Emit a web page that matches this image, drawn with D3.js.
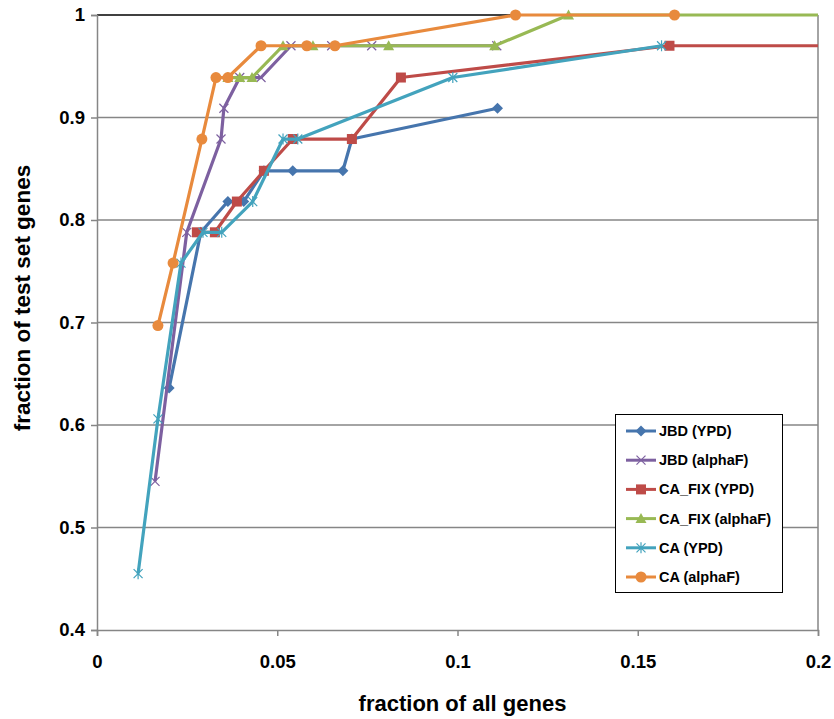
<!DOCTYPE html>
<meta charset="utf-8">
<style>
    body {
        margin: 0;
        background-color: #fff;
    }

    svg {
        display: block;
        font-family: "Liberation Sans", Arial, sans-serif;
        font-weight: bold;
    }
</style>
<script src="https://cdn.jsdelivr.net/npm/d3@7"></script>
<svg width="834" height="719"></svg>
<script>
    // valores
    var nomes = ["JBD (YPD)", "JBD (alphaF)", "CA_FIX (YPD)", "CA_FIX (alphaF)", "CA (YPD)", "CA (alphaF)"];

    var jbdYpdX = [0.0200, 0.0288, 0.0363, 0.0407, 0.0463, 0.0543, 0.0682, 0.0707, 0.1111];
    var jbdYpdY = [0.636, 0.788, 0.818, 0.818, 0.848, 0.848, 0.848, 0.879, 0.909];

    var jbdAlphaX = [0.0161, 0.0249, 0.0344, 0.0352, 0.0396, 0.0455, 0.0538, 0.0651, 0.0762, 0.1109];
    var jbdAlphaY = [0.545, 0.788, 0.879, 0.909, 0.939, 0.939, 0.970, 0.970, 0.970, 0.970];

    var caFixYpdX = [0.0277, 0.0327, 0.0388, 0.0463, 0.0543, 0.0707, 0.0843, 0.1588, 0.25];
    var caFixYpdY = [0.788, 0.788, 0.818, 0.848, 0.879, 0.879, 0.939, 0.970, 0.970];

    var caFixAlphaX = [0.0363, 0.0396, 0.0430, 0.0516, 0.0599, 0.0809, 0.1103, 0.1308, 0.25];
    var caFixAlphaY = [0.939, 0.939, 0.939, 0.970, 0.970, 0.970, 0.970, 1.0, 1.0];

    var caYpdX = [0.0114, 0.0169, 0.0233, 0.0294, 0.0346, 0.0432, 0.0516, 0.0557, 0.0987, 0.1566];
    var caYpdY = [0.455, 0.606, 0.758, 0.788, 0.788, 0.818, 0.879, 0.879, 0.939, 0.970];

    var caAlphaX = [0.0169, 0.0211, 0.0291, 0.0330, 0.0363, 0.0455, 0.0582, 0.0660, 0.1161, 0.1602];
    var caAlphaY = [0.697, 0.758, 0.879, 0.939, 0.939, 0.970, 0.970, 0.970, 1.0, 1.0];

    var xTicks = [0, 0.05, 0.1, 0.15, 0.2];
    var yTicks = [0.4, 0.5, 0.6, 0.7, 0.8, 0.9, 1];

    var cores = ["#4675AD", "#7D60A0", "#BE4B48", "#98B954", "#43A3BD", "#E88A3D"];
    var marcadores = ["diamond", "x", "square", "triangle", "star", "circle"];

    function junta(xs, ys) {
        return xs.map(function (x, i) { return [x, ys[i]]; });
    }

    var series = [
        junta(jbdYpdX, jbdYpdY),
        junta(jbdAlphaX, jbdAlphaY),
        junta(caFixYpdX, caFixYpdY),
        junta(caFixAlphaX, caFixAlphaY),
        junta(caYpdX, caYpdY),
        junta(caAlphaX, caAlphaY)
    ];

    var svg = d3.select("svg");
    var esq = 97, dir = 818, topo = 15, base = 630;

    var x = d3.scaleLinear().domain([0, 0.2]).range([esq, dir]);
    var y = d3.scaleLinear().domain([0.4, 1]).range([base, topo]);

    // grade
    svg.append("g")
        .selectAll("line")
        .data(yTicks.filter(function (d) { return d > 0.4 && d < 1; }))
        .enter().append("line")
        .attr("x1", esq).attr("x2", dir)
        .attr("y1", function (d) { return y(d); })
        .attr("y2", function (d) { return y(d); })
        .attr("stroke", "#868686")
        .attr("stroke-width", 1.5);

    svg.append("line")
        .attr("x1", esq).attr("x2", dir).attr("y1", y(1)).attr("y2", y(1))
        .attr("stroke", "#000").attr("stroke-width", 1.5);
    svg.append("line")
        .attr("x1", dir).attr("x2", dir).attr("y1", topo).attr("y2", base)
        .attr("stroke", "#868686").attr("stroke-width", 1.5);

    // eixos
    var eixoX = svg.append("g")
        .attr("transform", "translate(0," + base + ")")
        .call(d3.axisBottom(x).tickValues(xTicks).tickSize(6).tickPadding(19)
            .tickFormat(function (d) { return d === 0 ? "0" : String(d); }));
    var eixoY = svg.append("g")
        .attr("transform", "translate(" + esq + ",0)")
        .call(d3.axisLeft(y).tickValues(yTicks).tickSize(6).tickPadding(6)
            .tickFormat(function (d) { return d === 1 ? "1" : d.toFixed(1); }));

    [eixoX, eixoY].forEach(function (g) {
        g.select(".domain").attr("stroke", "#868686").attr("stroke-width", 1.5);
        g.selectAll(".tick line").attr("stroke", "#868686").attr("stroke-width", 1.5);
        g.selectAll(".tick text")
            .attr("fill", "#000")
            .style("font-family", "'Liberation Sans', Arial, sans-serif")
            .style("font-weight", "bold")
            .style("font-size", "18.5px");
    });

    // títulos
    svg.append("text")
        .attr("x", (esq + dir) / 2 + 5)
        .attr("y", 711)
        .attr("text-anchor", "middle")
        .style("font-size", "22px")
        .text("fraction of all genes");

    svg.append("text")
        .attr("transform", "translate(30,298) rotate(-90)")
        .attr("text-anchor", "middle")
        .style("font-size", "22.5px")
        .text("fraction of test set genes");

    // marcadores
    function desenhaMarcador(g, tipo, cor) {
        if (tipo == "diamond") {
            g.append("path").attr("d", "M0,-5.5L5.5,0L0,5.5L-5.5,0Z").attr("fill", cor);
        } else if (tipo == "square") {
            g.append("rect").attr("x", -5).attr("y", -5).attr("width", 10).attr("height", 10).attr("fill", cor);
        } else if (tipo == "triangle") {
            g.append("path").attr("d", "M0,-5.5L5.5,4.5L-5.5,4.5Z").attr("fill", cor);
        } else if (tipo == "circle") {
            g.append("circle").attr("r", 5.5).attr("fill", cor);
        } else if (tipo == "x") {
            g.append("path").attr("d", "M-4.5,-4.5L4.5,4.5M-4.5,4.5L4.5,-4.5")
                .attr("stroke", cor).attr("stroke-width", 1.2).attr("fill", "none");
        } else if (tipo == "star") {
            g.append("path").attr("d", "M-4.5,-4.5L4.5,4.5M-4.5,4.5L4.5,-4.5M0,-5.5L0,5.5")
                .attr("stroke", cor).attr("stroke-width", 1.2).attr("fill", "none");
        }
    }

    svg.append("clipPath").attr("id", "corte")
        .append("rect").attr("x", esq).attr("y", 0).attr("width", dir - esq).attr("height", 719);

    var linha = d3.line()
        .x(function (d) { return x(d[0]); })
        .y(function (d) { return y(d[1]); });

    var area = svg.append("g").attr("clip-path", "url(#corte)");

    series.forEach(function (s, i) {
        var g = area.append("g");
        g.append("path")
            .datum(s)
            .attr("d", linha)
            .attr("fill", "none")
            .attr("stroke", cores[i])
            .attr("stroke-width", 3.2)
            .attr("stroke-linejoin", "round");
        g.selectAll("g")
            .data(s)
            .enter().append("g")
            .attr("transform", function (d) { return "translate(" + x(d[0]) + "," + y(d[1]) + ")"; })
            .each(function () { desenhaMarcador(d3.select(this), marcadores[i], cores[i]); });
    });

    // legenda
    var legenda = svg.append("g");
    legenda.append("rect")
        .attr("x", 615.5).attr("y", 414.5).attr("width", 167).attr("height", 178)
        .attr("fill", "#fff").attr("stroke", "#000").attr("stroke-width", 1);

    nomes.forEach(function (nome, i) {
        var ly = 431 + i * 29.2;
        var item = legenda.append("g");
        item.append("line")
            .attr("x1", 626).attr("x2", 656).attr("y1", ly).attr("y2", ly)
            .attr("stroke", cores[i]).attr("stroke-width", 3);
        desenhaMarcador(item.append("g").attr("transform", "translate(641," + ly + ")"), marcadores[i], cores[i]);
        item.append("text")
            .attr("x", 659)
            .attr("y", ly + 5)
            .style("font-size", "14.5px")
            .text(nome);
    });
</script>
